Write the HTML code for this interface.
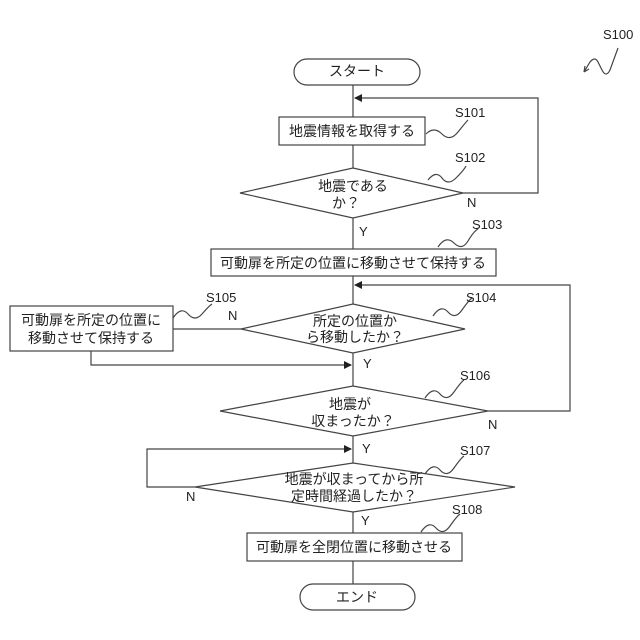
<!DOCTYPE html>
<html><head><meta charset="utf-8"><style>
html,body{margin:0;padding:0;background:#fff}
svg{display:block}
text{font-family:"Liberation Sans","Noto Sans CJK JP",sans-serif;fill:#222}
.t{font-size:14px;text-anchor:middle}
.l{font-size:13px}
</style></head><body>
<svg width="640" height="640" viewBox="0 0 640 640" xmlns="http://www.w3.org/2000/svg">
<defs><marker id="a" markerWidth="8" markerHeight="8" refX="7" refY="4" orient="auto" markerUnits="userSpaceOnUse"><path d="M0,0 L8,4 L0,8z" fill="#222"/></marker></defs>
<g stroke="#444" stroke-width="1.2" fill="none">
<line x1="353" y1="84" x2="353" y2="117"/>
<line x1="353" y1="145" x2="353" y2="168"/>
<line x1="353" y1="218" x2="353" y2="249"/>
<line x1="353" y1="276" x2="353" y2="304"/>
<line x1="353" y1="353" x2="353" y2="386"/>
<line x1="353" y1="436" x2="353" y2="463"/>
<line x1="353" y1="512" x2="353" y2="533"/>
<line x1="353" y1="561" x2="353" y2="584"/>
<polyline points="463,193 538,193 538,98 355,98" marker-end="url(#a)"/>
<polyline points="488,411 570,411 570,285 355,285" marker-end="url(#a)"/>
<line x1="241" y1="329" x2="173" y2="329"/>
<polyline points="91,351 91,365 351,365" marker-end="url(#a)"/>
<polyline points="195,487 147,487 147,449 351,449" marker-end="url(#a)"/>
<rect x="294" y="59" width="126" height="26" rx="13" fill="#fff"/>
<rect x="279" y="117" width="146" height="28" fill="#fff"/>
<polygon points="353,168 463,193 353,218 240,193" fill="#fff"/>
<rect x="211" y="249" width="285" height="27" fill="#fff"/>
<polygon points="353,304 465,329 353,353 241,329" fill="#fff"/>
<rect x="10" y="306" width="163" height="45" fill="#fff"/>
<polygon points="353,386 488,411 353,436 220,411" fill="#fff"/>
<polygon points="353,463 515,487 353,512 195,487" fill="#fff"/>
<rect x="247" y="533" width="215" height="28" fill="#fff"/>
<rect x="300" y="584" width="115" height="26" rx="13" fill="#fff"/>
<path d="M426,134 q8,-8 16,0 t16,-2 t10,-12"/>
<path d="M428,180 q8,-10 14,-2 t14,0 t10,-12"/>
<path d="M438,247 q8,-12 16,-4 t14,-2 t10,-12"/>
<path d="M433,316 q8,-12 15,-4 t14,-2 t10,-12"/>
<path d="M173,318 q8,-12 15,-4 t14,0 t10,-10"/>
<path d="M425,398 q8,-12 15,-4 t14,-2 t10,-12"/>
<path d="M425,474 q8,-12 15,-4 t14,-2 t10,-12"/>
<path d="M421,532 q8,-12 15,-4 t14,-2 t10,-12"/>
<path d="M618,48 l-8,22 q-4,8 -8,0 l-4,-8 q-3,-6 -8,0 l-6,10 m0,0 l1,-6 m-1,6 l5,-3"/>
</g>
<text class="t" x="357" y="76">スタート</text>
<text class="t" x="352" y="136">地震情報を取得する</text>
<text class="t" x="353" y="191">地震である</text>
<text class="t" x="346" y="208">か？</text>
<text class="t" x="353" y="268">可動扉を所定の位置に移動させて保持する</text>
<text class="t" x="355" y="326">所定の位置か</text>
<text class="t" x="355" y="342">ら移動したか？</text>
<text class="t" x="91" y="325">可動扉を所定の位置に</text>
<text class="t" x="91" y="343">移動させて保持する</text>
<text class="t" x="350" y="409">地震が</text>
<text class="t" x="353" y="426">収まったか？</text>
<text class="t" x="354" y="484">地震が収まってから所</text>
<text class="t" x="354" y="501">定時間経過したか？</text>
<text class="t" x="354" y="552">可動扉を全閉位置に移動させる</text>
<text class="t" x="357" y="602">エンド</text>
<g class="l">
<text x="603" y="39">S100</text>
<text x="455" y="117">S101</text>
<text x="455" y="162">S102</text>
<text x="472" y="229">S103</text>
<text x="466" y="302">S104</text>
<text x="206" y="302">S105</text>
<text x="460" y="380">S106</text>
<text x="460" y="455">S107</text>
<text x="452" y="514">S108</text>
<text x="467" y="207">N</text>
<text x="359" y="236">Y</text>
<text x="228" y="320">N</text>
<text x="363" y="368">Y</text>
<text x="488" y="429">N</text>
<text x="362" y="453">Y</text>
<text x="186" y="501">N</text>
<text x="361" y="525">Y</text>
</g>
</svg>
</body></html>
